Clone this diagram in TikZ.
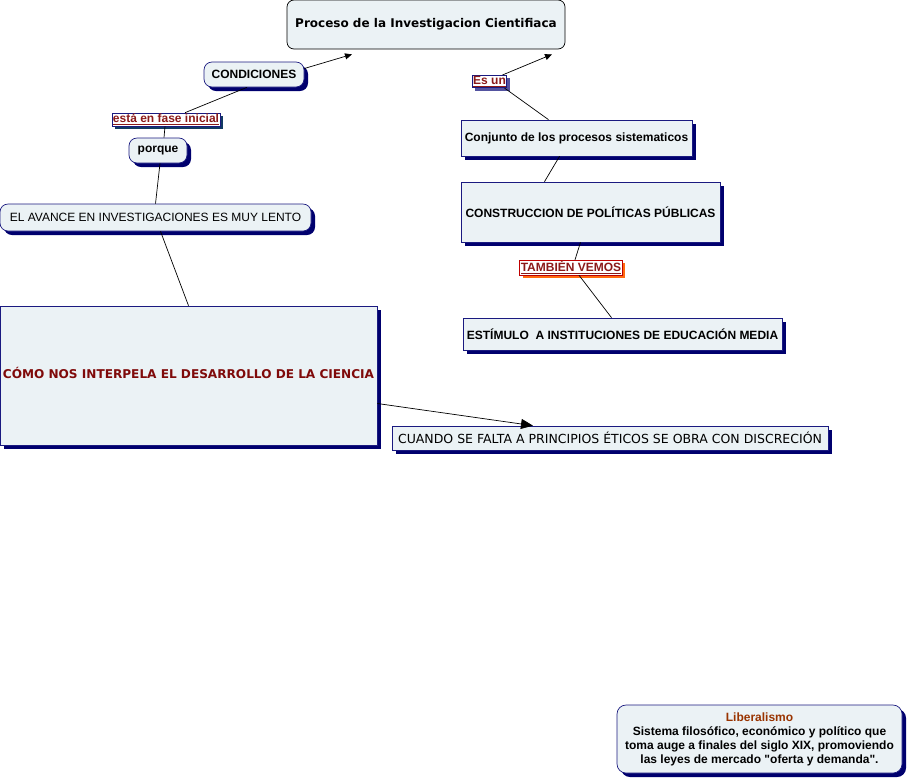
\documentclass[tikz,border=0pt]{standalone}
\usepackage{fontspec}
\setmainfont{Liberation Sans}[Ligatures=TeXOff]
\newfontfamily\verdana{DejaVu Sans}
\usetikzlibrary{arrows.meta,shadows}

\definecolor{boxfill}{HTML}{EBF2F5}
\definecolor{navyline}{HTML}{1A1A80}
\definecolor{navyshadow}{HTML}{00006E}
\definecolor{slateshadow}{HTML}{123A62}
\definecolor{linkred}{HTML}{8B1A1A}
\definecolor{darkred}{HTML}{7F0A0A}
\definecolor{linkorange}{HTML}{FF6A10}
\definecolor{brownred}{HTML}{993300}

\begin{document}
\begin{tikzpicture}[
    x=1pt, y=-1pt, line width=0.7pt,
    font=\fontsize{12}{14}\selectfont,
    concept/.style  = {rectangle, draw=navyline, fill=boxfill, inner sep=2pt,
                       align=center,
                       drop shadow={shadow xshift=4pt, shadow yshift=-4pt,
                                    fill=navyshadow, opacity=1}},
    roundconcept/.style = {concept, rounded corners=8pt},
    linkword/.style = {rectangle, draw=navyline, fill=white, inner sep=1pt,
                       text=linkred, font=\fontsize{12}{14}\selectfont\bfseries,
                       drop shadow={shadow xshift=3pt, shadow yshift=-3pt,
                                    fill=#1, opacity=1}},
    linkword/.default = slateshadow,
    flow/.style     = {-{Triangle[length=7pt,width=6pt]}},
    bigflow/.style  = {-{Triangle[length=12pt,width=10pt]}}
]
\useasboundingbox (0,0) rectangle (909,780);

% --- Top concept -------------------------------------------------------------
\node[rectangle, rounded corners=7pt, draw=black, fill=boxfill,
      minimum width=278pt, minimum height=49pt,
      font=\verdana\fontsize{12}{14}\selectfont\bfseries]   (proc) at (426,24.5)
  {Proceso de la Investigacion Cientifiaca};

% --- Left branch -------------------------------------------------------------
\node[roundconcept, minimum width=100pt, minimum height=25pt,
      font=\fontsize{12}{14}\selectfont\bfseries]          (cond) at (254,74.5)
  {CONDICIONES};
\node[linkword]                                             (fase) at (166,119.5)
  {\underline{está en fase inicial}};
\node[roundconcept, minimum width=58pt, minimum height=25pt,
      font=\fontsize{12}{14}\selectfont\bfseries]          (porque) at (158,150.5)
  {porque};
\node[roundconcept, minimum width=311pt, minimum height=27pt] (avance) at (155.5,217.5)
  {EL AVANCE EN INVESTIGACIONES ES MUY LENTO};
\node[concept, minimum width=377pt, minimum height=139pt, text=darkred,
      font=\verdana\fontsize{12.1}{14}\selectfont\bfseries] (como) at (188.5,375.5)
  {\raisebox{6pt}{CÓMO NOS INTERPELA EL DESARROLLO DE LA CIENCIA}};
\node[concept, minimum width=436pt, minimum height=24pt,
      font=\verdana\fontsize{12.5}{14}\selectfont]          (cuando) at (610,438)
  {CUANDO SE FALTA A PRINCIPIOS ÉTICOS SE OBRA CON DISCRECIÓN};

% --- Right branch ------------------------------------------------------------
\node[linkword=navyline!75]                                 (esun) at (489.5,81.5)
  {\underline{Es un}};
\node[concept, minimum width=231pt, minimum height=36pt,
      font=\fontsize{12}{14}\selectfont\bfseries]          (conj) at (576.5,138)
  {Conjunto de los procesos sistematicos};
\node[concept, minimum width=259pt, minimum height=60pt,
      font=\fontsize{12}{14}\selectfont\bfseries]          (constr) at (590.5,212)
  {CONSTRUCCION DE POLÍTICAS PÚBLICAS};
\node[linkword=linkorange, draw=red!75!black]               (tamb) at (571,267.5)
  {\underline{TAMBIÉN VEMOS}};
\node[concept, minimum width=319pt, minimum height=32pt,
      font=\fontsize{12}{14}\selectfont\bfseries]          (estim) at (622.5,334)
  {ESTÍMULO\ \ A INSTITUCIONES DE EDUCACIÓN MEDIA};

% --- Note --------------------------------------------------------------------
\node[roundconcept, rounded corners=9pt, minimum width=285pt, minimum height=68pt,
      font=\fontsize{12}{14}\selectfont\bfseries]          (liber) at (759.5,739)
  {\textcolor{brownred}{Liberalismo}\\
   Sistema filosófico, económico y político que\\
   toma auge a finales del siglo XIX, promoviendo\\
   las leyes de mercado "oferta y demanda".};

% --- Connectors --------------------------------------------------------------
\draw[flow] ([yshift=6pt]cond.east) -- ([xshift=-74pt,yshift=-5pt]proc.south);
\draw ([xshift=19pt]fase.north)  -- ([xshift=-7pt]cond.south);
\draw ([xshift=6pt]porque.north) -- ([xshift=-1pt]fase.south);
\draw (avance.north)             -- ([xshift=2pt]porque.south);
\draw (como.north)               -- ([xshift=5pt]avance.south);
\draw[bigflow] ([yshift=-28pt]como.east) -- ([xshift=-77pt]cuando.north);

\draw[flow] ([xshift=13pt]esun.north) -- ([xshift=126pt,yshift=-5pt]proc.south);
\draw ([xshift=-28pt]conj.north)   -- ([xshift=15pt]esun.south);
\draw ([xshift=-46pt]constr.north) -- ([xshift=-17pt]conj.south);
\draw ([xshift=4pt]tamb.north)     -- ([xshift=-10pt]constr.south);
\draw ([xshift=-11pt]estim.north)  -- ([xshift=8pt]tamb.south);

\end{tikzpicture}
\end{document}
